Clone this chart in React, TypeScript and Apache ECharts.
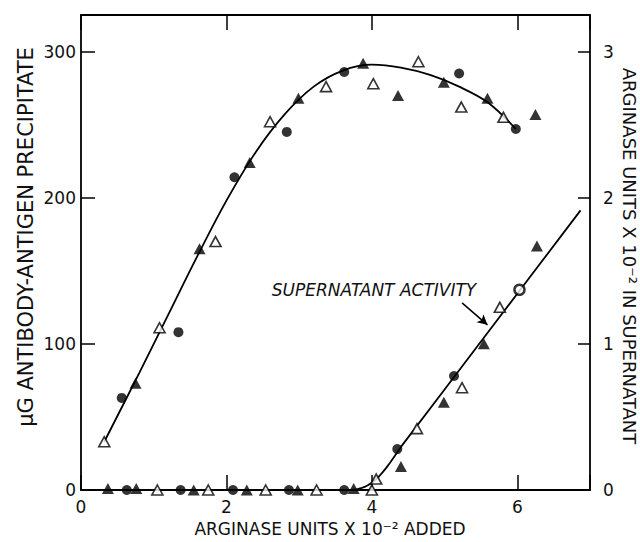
import React, { useEffect, useRef } from "react";
import * as echarts from "echarts";

// X axis: arginase units x 10^-2 added
const xTickValues = [0, 2, 4, 6];
const leftTickValues = [0, 100, 200, 300];
const rightTickValues = [0, 1, 2, 3];

// Left axis: ug antibody-antigen precipitate
const precipFilledCircle = [[0.56, 63], [1.34, 108], [2.11, 214], [2.83, 245], [3.62, 286], [5.2, 285], [5.98, 247]];
const precipFilledTriangle = [[0.75, 73], [1.63, 165], [2.32, 224], [2.99, 268], [3.88, 292], [4.36, 270], [4.99, 279], [5.59, 268], [6.25, 257]];
const precipOpenTriangle = [[0.32, 33], [1.08, 111], [1.85, 170], [2.6, 252], [3.37, 276], [4.02, 278], [4.64, 293], [5.23, 262], [5.81, 255]];
const precipCurveX = [0.32, 0.8, 1.2, 1.6, 2.0, 2.4, 2.8, 3.2, 3.6, 4.0, 4.4, 4.8, 5.2, 5.6, 5.98];
const precipCurveY = [33, 80, 120, 160, 198, 231, 257, 276, 287, 291, 289, 284, 276, 265, 247];

// Right axis: arginase units x 10^-2 in supernatant
const superFilledCircle = [[0.63, 0], [1.37, 0], [2.09, 0], [2.86, 0], [3.62, 0], [4.35, 0.28], [5.13, 0.78], [6.03, 1.37]];
const superFilledTriangle = [[0.37, 0.01], [0.76, 0.01], [1.55, 0], [2.28, 0], [2.98, 0], [3.75, 0.01], [4.4, 0.16], [4.99, 0.6], [5.54, 1.0], [6.27, 1.67]];
const superOpenTriangle = [[1.05, 0], [1.75, 0], [2.54, 0], [3.24, 0], [4.0, 0], [4.06, 0.075], [4.62, 0.42], [5.24, 0.7], [5.76, 1.25]];
const superCurveX = [0.32, 3.7, 3.75, 3.8, 3.85, 3.9, 3.95, 4.0, 4.05, 4.1, 4.15, 4.2, 4.25, 4.3, 4.35, 4.4, 5.0, 5.6, 6.2, 6.87];
const superCurveY = [0, 0, 0.002, 0.006, 0.012, 0.021, 0.034, 0.05, 0.07, 0.094, 0.122, 0.153, 0.187, 0.222, 0.258, 0.295, 0.688, 1.081, 1.474, 1.913];

const annotationText = "SUPERNATANT ACTIVITY";
const arrowFrom = [5.24, 1.28];
const arrowTo = [5.59, 1.13];

const FONT = "DejaVu Sans";

export default function App() {
  const ref = useRef<HTMLDivElement>(null);
  useEffect(() => {
    if (!ref.current) return;
    const chart = echarts.init(ref.current, null, { renderer: "svg" });

    const zip = (xs: number[], ys: number[]) => xs.map((x, i) => [x, ys[i]]);
    const filledCircle = { symbol: "circle", symbolSize: 10, itemStyle: { color: "#000" } };
    const filledTri = { symbol: "triangle", symbolSize: [12, 11], itemStyle: { color: "#000" } };
    const openTri = {
      symbol: "triangle",
      symbolSize: [11, 10],
      itemStyle: { color: "#fff", borderColor: "#000", borderWidth: 1.6 },
    };

    const superCircleData = superFilledCircle.map((p, i) =>
      i === superFilledCircle.length - 1
        ? { value: p, itemStyle: { color: "#fff", borderColor: "#000", borderWidth: 2.5 } }
        : p
    );

    const axisLine = { show: true, onZero: false, lineStyle: { color: "#000", width: 1.8 } };
    const tickStyle = { color: "#000", width: 1.5 };
    const labelStyle = { fontFamily: FONT, fontSize: 17, color: "#111" };

    chart.setOption({
      animation: false,
      backgroundColor: "#fff",
      grid: { left: 81, right: 50, top: 15, bottom: 52 },
      xAxis: [
        {
          type: "value",
          min: 0,
          max: 7,
          interval: 2,
          position: "bottom",
          axisLine,
          splitLine: { show: false },
          axisTick: { show: true, inside: true, length: 15, lineStyle: tickStyle },
          axisLabel: {
            ...labelStyle,
            margin: 8,
            formatter: (v: number) => (xTickValues.includes(v) ? String(v) : ""),
          },
        },
        {
          type: "value",
          min: 0,
          max: 7,
          interval: 2,
          position: "top",
          axisLine,
          splitLine: { show: false },
          axisTick: { show: true, inside: true, length: 15, lineStyle: tickStyle },
          axisLabel: { show: false },
        },
      ],
      yAxis: [
        {
          type: "value",
          min: 0,
          max: 325,
          interval: 100,
          position: "left",
          axisLine,
          splitLine: { show: false },
          axisTick: { show: true, inside: true, length: 14, lineStyle: tickStyle },
          axisLabel: {
            ...labelStyle,
            margin: 5,
            formatter: (v: number) => (leftTickValues.includes(v) ? String(v) : ""),
          },
        },
        {
          type: "value",
          min: 0,
          max: 3.25,
          interval: 1,
          position: "right",
          axisLine,
          splitLine: { show: false },
          axisTick: { show: true, inside: true, length: 12, lineStyle: tickStyle },
          axisLabel: {
            ...labelStyle,
            margin: 13,
            formatter: (v: number) => (rightTickValues.includes(v) ? String(v) : ""),
          },
        },
      ],
      series: [
        {
          type: "line",
          yAxisIndex: 0,
          data: zip(precipCurveX, precipCurveY),
          smooth: 0.35,
          symbol: "none",
          lineStyle: { color: "#000", width: 1.8 },
          z: 2,
        },
        {
          type: "line",
          yAxisIndex: 1,
          data: zip(superCurveX, superCurveY),
          smooth: false,
          symbol: "none",
          lineStyle: { color: "#000", width: 1.8 },
          z: 2,
          markLine: {
            silent: true,
            symbol: ["none", "arrow"],
            symbolSize: [8, 10],
            label: { show: false },
            lineStyle: { color: "#000", width: 1.5, type: "solid" },
            data: [[{ coord: arrowFrom }, { coord: arrowTo }]],
          },
        },
        { type: "scatter", yAxisIndex: 0, data: precipFilledCircle, ...filledCircle, z: 5 },
        { type: "scatter", yAxisIndex: 0, data: precipFilledTriangle, ...filledTri, z: 5 },
        { type: "scatter", yAxisIndex: 0, data: precipOpenTriangle, ...openTri, z: 5 },
        { type: "scatter", yAxisIndex: 1, data: superCircleData, ...filledCircle, z: 5 },
        { type: "scatter", yAxisIndex: 1, data: superFilledTriangle, ...filledTri, z: 5 },
        { type: "scatter", yAxisIndex: 1, data: superOpenTriangle, ...openTri, z: 5 },
      ],
      graphic: [
        {
          type: "text",
          x: 330,
          y: 529,
          style: {
            text: "ARGINASE UNITS X 10⁻² ADDED",
            fontFamily: FONT,
            fontSize: 17,
            fill: "#111",
            align: "center",
            verticalAlign: "middle",
          },
        },
        {
          type: "text",
          x: 26,
          y: 237,
          rotation: Math.PI / 2,
          style: {
            text: "μG ANTIBODY-ANTIGEN PRECIPITATE",
            fontFamily: FONT,
            fontSize: 21,
            fill: "#111",
            align: "center",
            verticalAlign: "middle",
          },
        },
        {
          type: "text",
          x: 629,
          y: 256,
          rotation: -Math.PI / 2,
          style: {
            text: "ARGINASE UNITS X 10⁻² IN SUPERNATANT",
            fontFamily: FONT,
            fontSize: 18,
            fill: "#111",
            align: "center",
            verticalAlign: "middle",
          },
        },
        {
          type: "text",
          x: 374,
          y: 290,
          style: {
            text: annotationText,
            fontFamily: FONT,
            fontSize: 17,
            fontStyle: "italic",
            fill: "#111",
            align: "center",
            verticalAlign: "middle",
          },
        },
      ],
    });
    return () => chart.dispose();
  }, []);
  return (
    <div
      ref={ref}
      style={{ position: "fixed", left: 0, top: 0, width: 640, height: 542, background: "#fff" }}
    />
  );
}
